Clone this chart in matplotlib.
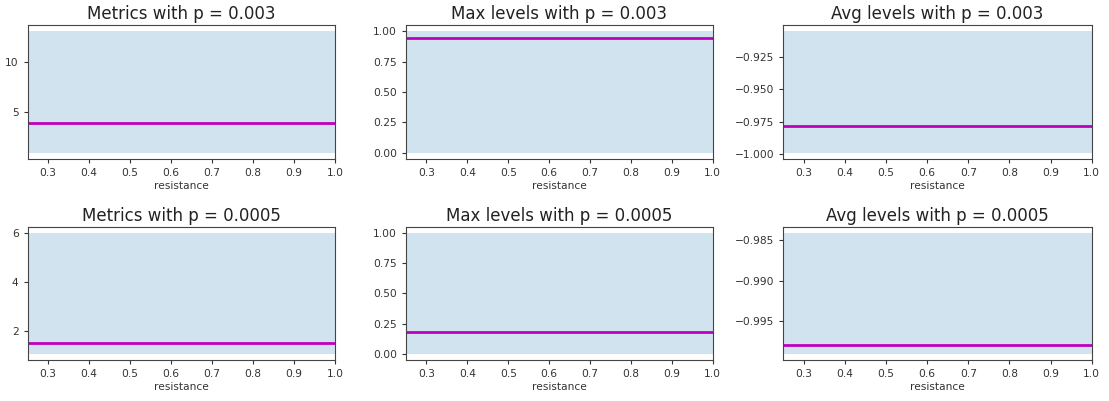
import matplotlib
matplotlib.use("Agg")
import matplotlib.pyplot as plt

# Data
resistance = [0.25, 0.5, 0.75, 1.0]
titles = ["Metrics with p = 0.003", "Max levels with p = 0.003", "Avg levels with p = 0.003",
          "Metrics with p = 0.0005", "Max levels with p = 0.0005", "Avg levels with p = 0.0005"]
mean_vals = [3.95, 0.943, -0.978, 1.51, 0.182, -0.9979]
low_vals = [1.0, 0.0, -0.999, 1.05, 0.0, -0.9990]
high_vals = [13.0, 1.0, -0.905, 6.0, 1.0, -0.9841]
xticks = [0.3, 0.4, 0.5, 0.6, 0.7, 0.8, 0.9, 1.0]
yticks = [[5, 10], [0.0, 0.25, 0.5, 0.75, 1.0], [-1.0, -0.975, -0.95, -0.925],
          [2, 4, 6], [0.0, 0.25, 0.5, 0.75, 1.0], [-0.995, -0.99, -0.985]]
ytick_fmt = ["{:g}", "{:.2f}", "{:.3f}", "{:g}", "{:.2f}", "{:.3f}"]

W, H = 1109, 401
fig = plt.figure(figsize=(W / 100, H / 100), dpi=100)

lefts = [27.7, 406, 783.3]
rights = [335, 712.7, 1091.7]
tops = [25, 226.7]
bottoms = [159, 360]

for i in range(6):
    r, c = divmod(i, 3)
    l = lefts[c] / W
    w = (rights[c] - lefts[c]) / W
    b = 1 - bottoms[r] / H
    h = (bottoms[r] - tops[r]) / H
    ax = fig.add_axes([l, b, w, h])
    n = len(resistance)
    ax.fill_between(resistance, [low_vals[i]] * n, [high_vals[i]] * n, alpha=0.2, color="C0", linewidth=0)
    ax.plot(resistance, [mean_vals[i]] * n, color="m", lw=2)
    ax.set_xlim(0.25, 1.0)
    ax.set_xticks(xticks)
    ax.set_xticklabels(["{:.1f}".format(t) for t in xticks])
    ax.set_yticks(yticks[i])
    ax.set_yticklabels([ytick_fmt[i].format(t).replace("-", "\u2212") for t in yticks[i]])
    ax.tick_params(labelsize=7.7, colors="#333333", length=3)
    for s in ax.spines.values():
        s.set_color("#444444")
    ax.set_xlabel("resistance", fontsize=7.7, color="#333333", labelpad=2)
    ax.set_title(titles[i], fontsize=12, color="#222222", pad=4)

fig.savefig("out.png", dpi=100)
